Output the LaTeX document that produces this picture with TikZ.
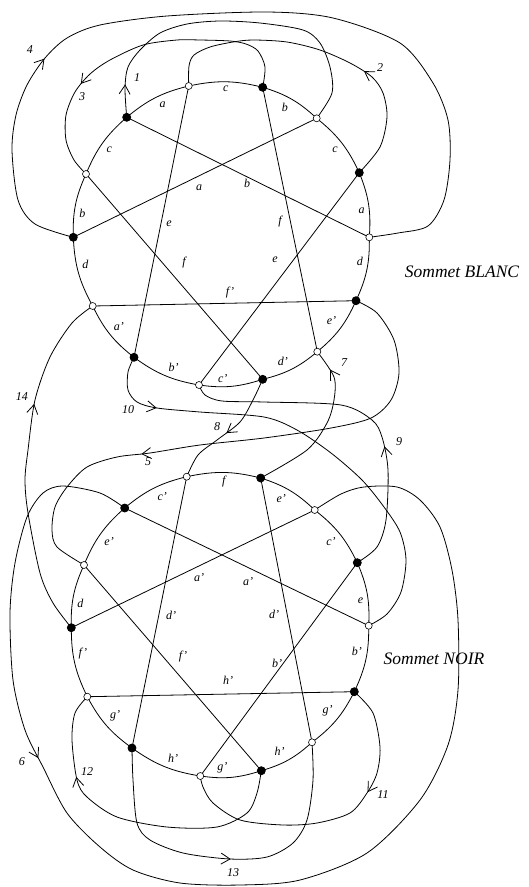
\documentclass[tikz,border=0pt]{standalone}
\usepackage{fontspec}
\setmainfont{Liberation Serif}
\usetikzlibrary{arrows.meta, decorations.markings}

\begin{document}
\begin{tikzpicture}[x=1pt, y=-1pt, line width=.8pt,
    wdot/.style={draw, circle, fill=white, inner sep=0pt, minimum size=7pt, line width=.6pt},
    bdot/.style={draw, circle, fill=black, inner sep=0pt, minimum size=8pt},
    lbl/.style={font=\itshape\fontsize{12}{12}\selectfont, inner sep=1pt},
    arclbl/.style={lbl, auto, inner sep=3.5pt},
    title/.style={font=\itshape\fontsize{17.5}{20}\selectfont},
    strand/.style={postaction={decorate}, decoration={markings, mark=at position #1 with {\arrow{Straight Barb[length=9pt, width=11pt]}}}}]
    \useasboundingbox (0,0) rectangle (528,887);

    \foreach \n/\x/\y in {0/369.3/237.3, 1/359.3/172.7, 2/316.7/118.3, 3/262.7/87.3, 4/188.7/86, 5/126.7/117.3, 6/86/174,
                          7/73.3/237.3, 8/92.7/306, 9/134/357.3, 10/199/385, 11/262.7/379.3, 12/317.3/351.7, 13/356/300.7}
        \coordinate (t\n) at (\x,\y);
    \foreach \n/\x/\y in {0/368.7/625.7, 1/357.3/562.7, 2/314.7/510, 3/260.7/478, 4/186.7/476.7, 5/124.7/508, 6/84/565,
                          7/71.3/627.7, 8/87.3/696.7, 9/132/748, 10/200.3/776, 11/261.3/770.7, 12/312/742.3, 13/354.3/691.7}
        \coordinate (b\n) at (\x,\y);

    \foreach \i/\j/\l in {0/1/a, 1/2/c, 2/3/b, 3/4/c, 4/5/a, 5/6/c, 6/7/b, 7/8/d, 8/9/a', 9/10/b', 10/11/c', 11/12/d', 12/13/e', 13/0/d}
        \draw (t\i) to[bend right=13] node[arclbl] {\l} (t\j);
    \foreach \i/\j/\l in {0/1/e, 1/2/c', 2/3/e', 3/4/f, 4/5/c', 5/6/e', 6/7/d, 7/8/f', 8/9/g', 9/10/h', 10/11/g', 11/12/h', 12/13/g', 13/0/b'}
        \draw (b\i) to[bend right=13] node[arclbl] {\l} (b\j);

    \foreach \i/\j/\l/\x/\y in {5/0/b/247/183, 2/7/a/199/188, 4/9/e/169/224, 3/12/f/280/222, 6/11/f/184/263, 1/10/e/275/260, 8/13/f'/230/293}
        \draw (t\i) -- (t\j) node[lbl] at (\x,\y) {\l};
    \foreach \i/\j/\l/\x/\y in {5/0/a'/248/582, 2/7/a'/199/578, 4/9/d'/171/615, 3/12/d'/274/614, 6/11/f'/183/657, 1/10/b'/277/663, 8/13/h'/228/680}
        \draw (b\i) -- (b\j) node[lbl] at (\x,\y) {\l};

    \draw[strand=33pt] plot[smooth] coordinates {(t5) (125,88) (128,67) (140,50) (160,33) (187,24) (220,21) (260,23) (303,30) (320,43) (330,67) (332,93) (t2)};
    \draw[strand=118pt] plot[smooth] coordinates {(t1) (380,147) (387,117) (383,93) (372,77) (350,63) (320,50) (287,42) (253,40) (233,42) (210,47) (194,55) (189,66) (t4)};
    \draw[strand=-100pt] plot[smooth] coordinates {(t3) (265,67) (258,51) (246,44) (230,41) (200,40) (177,40) (143,45) (110,60) (90,74) (75,92) (66,115) (66,140) (74,160) (t6)};
    \draw[strand=220pt] plot[smooth] coordinates {(t7) (35,224) (18,200) (12,150) (16,115) (27,85) (45,58) (67,38) (100,25) (167,16) (267,12) (333,18) (400,43) (433,83) (448,120) (450,160) (444,200) (428,226) (398,233) (t0)};
    \draw[strand=-182pt] plot[smooth] coordinates {(t13) (377,313) (394,340) (399,373) (391,400) (371,418) (331,428) (264,438) (200,445) (150,453) (117,457) (87,467) (67,487) (55,507) (52,530) (57,547) (b6)};
    \draw[strand=365pt] plot[smooth] coordinates {(b5) (100,493) (63,486) (43,493) (27,517) (15,563) (10,613) (13,680) (25,730) (43,767) (67,813) (100,847) (133,870) (180,883) (240,885) (300,880) (367,853) (420,800) (448,745) (458,690) (458,620) (452,570) (440,527) (420,500) (397,487) (364,487) (341,494) (b2)};
    \draw[strand=-22pt] plot[smooth] coordinates {(b3) (307,450) (327,423) (334,400) (334,377) (t12)};
    \draw[strand=66pt] plot[smooth] coordinates {(t11) (253,400) (240,422) (217,440) (198,455) (b4)};
    \draw[strand=128pt] plot[smooth] coordinates {(b1) (377,547) (386,520) (388,470) (382,437) (372,420) (341,405) (264,402) (222,401) (205,395) (t10)};
    \draw[strand=70pt] plot[smooth] coordinates {(t9) (128,372) (128,390) (137,402) (157,408) (200,412) (264,417) (297,430) (331,453) (362,480) (384,507) (400,532) (406,560) (401,592) (387,614) (b0)};
    \draw[strand=111pt] plot[smooth] coordinates {(b13) (373,713) (380,747) (377,773) (367,793) (350,813) (317,823) (283,825) (240,820) (213,803) (203,787) (b10)};
    \draw[strand=-85pt] plot[smooth] coordinates {(b11) (257,793) (247,813) (217,827) (167,827) (117,817) (87,797) (77,780) (72,740) (75,713) (b8)};
    \draw[strand=181pt] plot[smooth] coordinates {(b9) (133,780) (137,823) (150,840) (183,853) (230,859) (267,857) (293,843) (307,820) (313,780) (b12)};
    \draw[strand=-117pt] plot[smooth] coordinates {(b7) (53,603) (40,573) (28,513) (25,480) (28,450) (35,400) (50,357) (72,323) (t8)};

    \foreach \l/\x/\y in {1/137/78, 2/380/68, 3/82/97, 4/30/50, 5/148/462, 6/22/762, 7/344/363,
                          8/217/427, 9/399/442, 10/128/410, 11/383/795, 12/87/772, 13/233/873, 14/22/397}
        \node[lbl] (s\l) at (\x,\y) {\l};

    \node[title] (blanc) at (462,272) {Sommet BLANC};
    \node[title] (noir) at (434,659) {Sommet NOIR};

    \foreach \n in {0,2,...,12} {\node[wdot] at (t\n) {}; \node[wdot] at (b\n) {};}
    \foreach \n in {1,3,...,13} {\node[bdot] at (t\n) {}; \node[bdot] at (b\n) {};}
\end{tikzpicture}
\end{document}
